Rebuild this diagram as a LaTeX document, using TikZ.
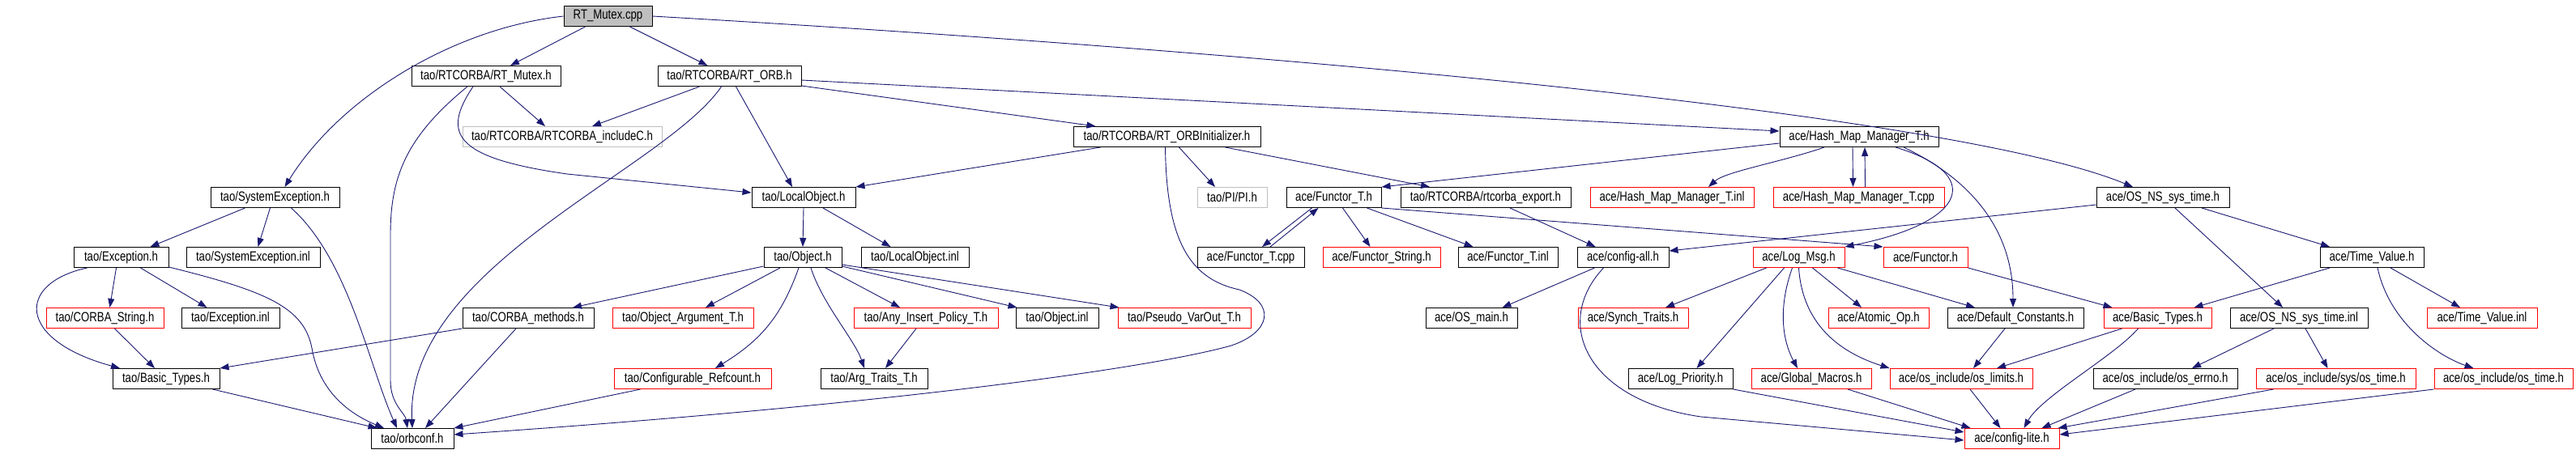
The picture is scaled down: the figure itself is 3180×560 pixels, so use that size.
\documentclass[tikz,border=0pt]{standalone}
\usepackage{fontspec}
\setmainfont{Liberation Sans}[FakeStretch=0.8]
\usetikzlibrary{arrows.meta}
\definecolor{edgeblue}{RGB}{25,25,112}
\definecolor{fillgray}{RGB}{191,191,191}
\definecolor{bordergray}{RGB}{191,191,191}
\definecolor{redline}{RGB}{255,0,0}
\tikzset{
  box/.style={draw=black, line width=1pt, minimum height=25pt, inner sep=0pt, text=black,
    font=\fontsize{16.5}{18}\selectfont, anchor=center},
  redbox/.style={box, draw=redline},
  graybox/.style={box, draw=bordergray},
  rootbox/.style={box, fill=fillgray},
  edge/.style={draw=edgeblue, line width=0.9pt, -{Triangle[length=11pt,width=8pt]}},
}
\begin{document}
\begin{tikzpicture}[x=1pt,y=-1pt]
\useasboundingbox (0,0) rectangle (3180,560);
% row 0
\node[rootbox, minimum width=109pt] (cpp) at (750.5,20) {RT\_Mutex.cpp};
% row 1
\node[box, minimum width=184pt] (rtmutexh) at (600,94) {tao/RTCORBA/RT\_Mutex.h};
\node[box, minimum width=177pt] (rtorbh) at (900.5,94) {tao/RTCORBA/RT\_ORB.h};
% row 2
\node[graybox, minimum width=246pt] (includeC) at (694,169) {tao/RTCORBA/RTCORBA\_includeC.h};
\node[box, minimum width=231pt] (orbinit) at (1440.5,169) {tao/RTCORBA/RT\_ORBInitializer.h};
\node[box, minimum width=196pt] (hmmh) at (2295,169) {ace/Hash\_Map\_Manager\_T.h};
% row 3
\node[box, minimum width=159pt] (sysexh) at (339.5,244) {tao/SystemException.h};
\node[box, minimum width=128pt] (localobj) at (992,244) {tao/LocalObject.h};
\node[graybox, minimum width=86pt] (pih) at (1521,244) {tao/PI/PI.h};
\node[box, minimum width=117pt] (functorth) at (1646.5,244) {ace/Functor\_T.h};
\node[box, minimum width=210pt] (rtcexp) at (1834,244) {tao/RTCORBA/rtcorba\_export.h};
\node[redbox, minimum width=202pt] (hmminl) at (2064,244) {ace/Hash\_Map\_Manager\_T.inl};
\node[redbox, minimum width=211pt] (hmmcpp) at (2294.5,244) {ace/Hash\_Map\_Manager\_T.cpp};
\node[box, minimum width=164pt] (ossystimeh) at (2670,244) {ace/OS\_NS\_sys\_time.h};
% row 4
\node[box, minimum width=117pt] (exch) at (149.5,318) {tao/Exception.h};
\node[box, minimum width=165pt] (sysexinl) at (312.5,318) {tao/SystemException.inl};
\node[box, minimum width=96pt] (objh) at (991,318) {tao/Object.h};
\node[box, minimum width=133pt] (localobjinl) at (1129.5,318) {tao/LocalObject.inl};
\node[box, minimum width=132pt] (functortcpp) at (1544,318) {ace/Functor\_T.cpp};
\node[redbox, minimum width=145pt] (functorstring) at (1705.5,318) {ace/Functor\_String.h};
\node[box, minimum width=123pt] (functortinl) at (1861.5,318) {ace/Functor\_T.inl};
\node[box, minimum width=113pt] (configall) at (2003.5,318) {ace/config-all.h};
\node[redbox, minimum width=113pt] (logmsg) at (2220.5,318) {ace/Log\_Msg.h};
\node[redbox, minimum width=104pt] (functorh) at (2377,318) {ace/Functor.h};
\node[box, minimum width=128pt] (timevalueh) at (2928,318) {ace/Time\_Value.h};
% row 5
\node[redbox, minimum width=145pt] (corbastring) at (129.5,393) {tao/CORBA\_String.h};
\node[box, minimum width=121pt] (excinl) at (284.5,393) {tao/Exception.inl};
\node[box, minimum width=162pt] (corbamethods) at (652,393) {tao/CORBA\_methods.h};
\node[redbox, minimum width=174pt] (objarg) at (843,393) {tao/Object\_Argument\_T.h};
\node[redbox, minimum width=178pt] (anyins) at (1143,393) {tao/Any\_Insert\_Policy\_T.h};
\node[box, minimum width=102pt] (objinl) at (1305,393) {tao/Object.inl};
\node[redbox, minimum width=164pt] (pseudo) at (1462,393) {tao/Pseudo\_VarOut\_T.h};
\node[box, minimum width=113pt] (osmain) at (1816.5,393) {ace/OS\_main.h};
\node[redbox, minimum width=136pt] (synch) at (2016,393) {ace/Synch\_Traits.h};
\node[redbox, minimum width=124pt] (atomic) at (2319,393) {ace/Atomic\_Op.h};
\node[box, minimum width=168pt] (defconst) at (2488,393) {ace/Default\_Constants.h};
\node[redbox, minimum width=133pt] (acebasic) at (2663.5,393) {ace/Basic\_Types.h};
\node[box, minimum width=170pt] (ossystimeinl) at (2838,393) {ace/OS\_NS\_sys\_time.inl};
\node[redbox, minimum width=136pt] (timevalueinl) at (3064,393) {ace/Time\_Value.inl};
% row 6
\node[box, minimum width=132pt] (taobasic) at (205,468) {tao/Basic\_Types.h};
\node[redbox, minimum width=194pt] (confref) at (855,468) {tao/Configurable\_Refcount.h};
\node[box, minimum width=132pt] (argtraits) at (1079,468) {tao/Arg\_Traits\_T.h};
\node[box, minimum width=129pt] (logprio) at (2074.5,468) {ace/Log\_Priority.h};
\node[redbox, minimum width=148pt] (globalmacros) at (2236,468) {ace/Global\_Macros.h};
\node[redbox, minimum width=176pt] (oslimits) at (2421,468) {ace/os\_include/os\_limits.h};
\node[box, minimum width=178pt] (oserrno) at (2673,468) {ace/os\_include/os\_errno.h};
\node[redbox, minimum width=197pt] (syssostime) at (2883.5,468) {ace/os\_include/sys/os\_time.h};
\node[redbox, minimum width=171pt] (ostime) at (3090.5,468) {ace/os\_include/os\_time.h};
% row 7
\node[box, minimum width=102pt] (orbconf) at (509,542) {tao/orbconf.h};
\node[redbox, minimum width=117pt] (configlite) at (2483.5,542) {ace/config-lite.h};

% ---- TAO edges
\draw[edge] (cpp.west) .. controls (560,35) and (420,120) .. ([xshift=12pt]sysexh.north);
\draw[edge] ([xshift=-28pt]cpp.south) -- ([xshift=30pt]rtmutexh.north);
\draw[edge] ([xshift=27pt]cpp.south) -- ([xshift=-27pt]rtorbh.north);
\draw[edge] (cpp.east) .. controls (1500,60) and (2400,135) .. ([xshift=-37pt]ossystimeh.north);
\draw[edge] ([xshift=17pt]rtmutexh.south) -- ([xshift=-21pt]includeC.north);
\draw[edge] ([xshift=-16pt]rtmutexh.south) .. controls (545,165) and (560,195) .. (700,215) -- ([yshift=6pt]localobj.west);
\draw[edge] ([xshift=-23pt]rtmutexh.south) .. controls (500,170) and (482,220) .. (482,290) -- (482,470) .. controls (482,500) and (500,510) .. ([xshift=-6pt]orbconf.north);
\draw[edge] ([xshift=-37pt]rtorbh.south) -- ([xshift=37pt]includeC.north);
\draw[edge] ([xshift=-10pt]rtorbh.south) .. controls (820,210) and (500,330) .. (orbconf.north);
\draw[edge] ([xshift=8pt]rtorbh.south) -- ([xshift=-14pt]localobj.north);
\draw[edge] ([yshift=-12pt]rtorbh.east) -- ([xshift=-88pt]orbinit.north);
\draw[edge] ([yshift=-5pt]rtorbh.east) -- ([yshift=7pt]hmmh.west);
\draw[edge] ([xshift=-82pt]orbinit.south) -- (localobj.north east);
\draw[edge] ([xshift=15pt]orbinit.south) -- ([xshift=-21pt]pih.north);
\draw[edge] ([xshift=72pt]orbinit.south) -- ([xshift=-69pt]rtcexp.north);
\draw[edge] ([xshift=-2pt]orbinit.south) .. controls (1440,300) and (1470,345) .. (1530,358) .. controls (1575,375) and (1570,410) .. (1520,427) .. controls (1420,455) and (1100,500) .. ([yshift=5pt]orbconf.east);
\draw[edge] (localobj.south) -- (objh.north);
\draw[edge] ([xshift=24pt]localobj.south) -- ([xshift=-30pt]localobjinl.north);
\draw[edge] ([yshift=-11pt]objh.west) -- ([xshift=55pt]corbamethods.north);
\draw[edge] ([xshift=-28pt]objh.south) -- ([xshift=28pt]objarg.north);
\draw[edge] ([xshift=-5pt]objh.south) .. controls (965,390) and (940,420) .. ([xshift=28pt]confref.north);
\draw[edge] ([xshift=10pt]objh.south) .. controls (1015,375) and (1055,420) .. ([xshift=-12pt]argtraits.north);
\draw[edge] ([xshift=28pt]objh.south) -- ([xshift=-32pt]anyins.north);
\draw[edge] ([yshift=-11pt]objh.east) -- ([xshift=2pt]objinl.north west);
\draw[edge] ([yshift=-9pt]objh.east) -- ([xshift=2pt]pseudo.north west);
\draw[edge] ([xshift=-12pt]anyins.south) -- ([xshift=14pt]argtraits.north);
\draw[edge] (corbamethods.south west) -- (taobasic.north east);
\draw[edge] ([xshift=-15pt]corbamethods.south) -- ([xshift=16pt]orbconf.north);
\draw[edge] ([xshift=33pt]confref.south west) -- (orbconf.north east);
\draw[edge] ([xshift=-37pt]sysexh.south) -- ([xshift=36pt]exch.north);
\draw[edge] ([xshift=-6pt]sysexh.south) -- ([xshift=6pt]sysexinl.north);
\draw[edge] ([xshift=20pt]sysexh.south) .. controls (430,320) and (455,450) .. ([xshift=-19pt]orbconf.north);
\draw[edge] ([xshift=-6pt]exch.south) -- ([xshift=6pt]corbastring.north);
\draw[edge] ([xshift=24pt]exch.south) -- ([xshift=-29pt]excinl.north);
\draw[edge] ([xshift=-42pt]exch.south) .. controls (20,350) and (20,420) .. ([xshift=-57pt]taobasic.north);
\draw[edge] ([yshift=-12pt]exch.east) .. controls (330,360) and (375,380) .. (385,430) .. controls (395,490) and (440,515) .. ([xshift=-35pt]orbconf.north);
\draw[edge] ([xshift=12pt]corbastring.south) -- ([xshift=-14pt]taobasic.north);
\draw[edge] ([xshift=-9pt]taobasic.south east) -- ([xshift=8pt]orbconf.north west);

% ---- ACE edges
\draw[edge] ([yshift=-8pt]hmmh.west) -- (functorth.north east);
\draw[edge] ([xshift=-43pt]hmmh.south) .. controls (2200,200) and (2130,212) .. ([xshift=45pt]hmminl.north);
\draw[edge] ([xshift=-8pt]hmmh.south) -- ([xshift=-7pt]hmmcpp.north);
\draw[edge] ([xshift=8pt]hmmcpp.north) -- ([xshift=7pt]hmmh.south);
\draw[edge] ([xshift=45pt]hmmh.south) .. controls (2450,215) and (2430,275) .. (logmsg.north east);
\draw[edge] ([xshift=55pt]hmmh.south) .. controls (2440,225) and (2485,290) .. ([xshift=-3pt]defconst.north);
\draw[edge] ([xshift=-27pt]functorth.south) -- ([xshift=14pt]functortcpp.north);
\draw[edge] ([xshift=24pt]functortcpp.north) -- ([xshift=-19pt]functorth.south);
\draw[edge] ([xshift=11pt]functorth.south) -- ([xshift=-14pt]functorstring.north);
\draw[edge] ([xshift=41pt]functorth.south) -- ([xshift=-43pt]functortinl.north);
\draw[edge] (functorth.south east) -- (functorh.north west);
\draw[edge] ([xshift=30pt]rtcexp.south) -- ([xshift=-34pt]configall.north);
\draw[edge] ([yshift=-9pt]ossystimeh.west) -- ([yshift=8pt]configall.east);
\draw[edge] ([xshift=15pt]ossystimeh.south) -- ([xshift=-20pt]ossystimeinl.north);
\draw[edge] ([xshift=48pt]ossystimeh.south) -- ([xshift=-52pt]timevalueh.north);
\draw[edge] ([xshift=-35pt]configall.south) -- ([xshift=38pt]osmain.north);
\draw[edge] ([xshift=-24pt]configall.south) .. controls (1915,400) and (1960,495) .. (2100,515) -- ([yshift=-2pt]configlite.west);
\draw[edge] ([xshift=-40pt]logmsg.south) -- ([xshift=40pt]synch.north);
\draw[edge] ([xshift=-18pt]logmsg.south) -- ([xshift=20pt]logprio.north);
\draw[edge] ([xshift=-8pt]logmsg.south) .. controls (2195,380) and (2200,420) .. ([xshift=-17pt]globalmacros.north);
\draw[edge] (logmsg.south) .. controls (2225,400) and (2270,435) .. (oslimits.north west);
\draw[edge] ([xshift=17pt]logmsg.south) -- ([xshift=-21pt]atomic.north);
\draw[edge] ([xshift=48pt]logmsg.south) -- ([xshift=-50pt]defconst.north);
\draw[edge] (functorh.south east) -- ([xshift=-56pt]acebasic.north);
\draw[edge] ([xshift=-52pt]timevalueh.south) -- ([xshift=45pt]acebasic.north);
\draw[edge] ([xshift=23pt]timevalueh.south) -- ([xshift=-27pt]timevalueinl.north);
\draw[edge] ([xshift=7pt]timevalueh.south) .. controls (2950,400) and (3010,440) .. ([xshift=-37pt]ostime.north);
\draw[edge] ([xshift=-13pt]defconst.south) -- ([xshift=15pt]oslimits.north);
\draw[edge] ([xshift=-44pt]acebasic.south) -- ([xshift=44pt]oslimits.north);
\draw[edge] ([xshift=-24pt]acebasic.south) .. controls (2610,440) and (2520,490) .. ([xshift=15pt]configlite.north);
\draw[edge] ([xshift=11pt]oslimits.south) -- ([xshift=-14pt]configlite.north);
\draw[edge] ([xshift=45pt]globalmacros.south) -- ([xshift=8pt]configlite.north west);
\draw[edge] (logprio.south east) -- ([yshift=8pt]configlite.west);
\draw[edge] ([xshift=-37pt]oserrno.south) -- ([xshift=37pt]configlite.north);
\draw[edge] ([xshift=22pt]syssostime.south west) -- ([xshift=-2pt]configlite.north east);
\draw[edge] (ostime.south west) -- ([yshift=5pt]configlite.east);
\draw[edge] ([xshift=-31pt]ossystimeinl.south) -- ([xshift=33pt]oserrno.north);
\draw[edge] ([xshift=8pt]ossystimeinl.south) -- ([xshift=-10pt]syssostime.north);
\end{tikzpicture}
\end{document}
